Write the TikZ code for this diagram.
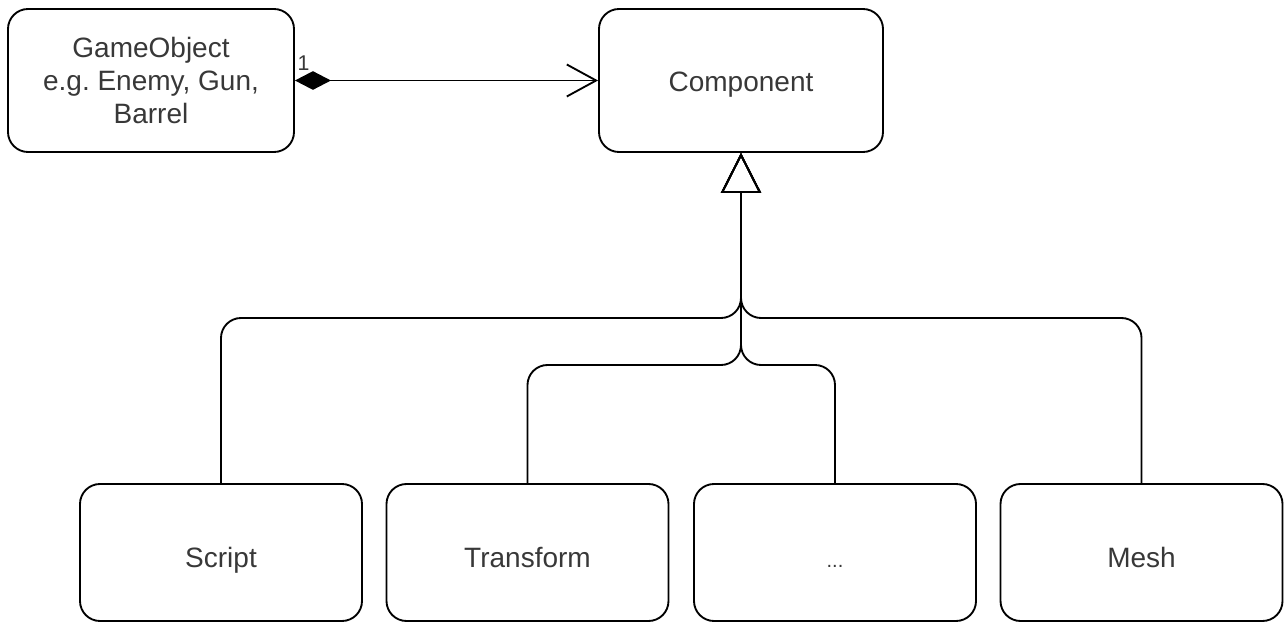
\documentclass[tikz,border=0pt]{standalone}
\usepackage{fontspec}
\setmainfont{Liberation Sans}
\usetikzlibrary{arrows.meta}
\begin{document}
\frenchspacing
\begin{tikzpicture}[x=0.75pt,y=-0.75pt,
  box/.style={draw, line width=1.4pt, rounded corners=15pt, align=center,
    text=black!78, font=\fontsize{21}{24.75}\selectfont, inner sep=0pt},
  bottombox/.style={box, minimum width=211.5pt, minimum height=102.75pt,
    text height=21.8pt, text depth=0pt},
  conn/.style={line width=1.4pt},
  inherit/.style={conn, rounded corners=15pt, -{Triangle[open, length=30pt, width=30pt, line width=1.4pt]}}
]
\useasboundingbox (0,0) rectangle (1284,623);
\node[box, minimum width=214.5pt, minimum height=107.25pt] (go) at (151,80.5)
  {GameObject\\e.g. Enemy, Gun,\\Barrel};
\node[box, minimum width=213pt, minimum height=107.25pt, text height=17.2pt, text depth=0pt] (comp) at (741,80.5) {Component};
\node[bottombox] (script) at (221,552.5) {Script};
\node[bottombox] (transform) at (527.5,552.5) {Transform};
\node[bottombox, font=\fontsize{15}{18}\selectfont] (dots) at (835,552.5) {...};
\node[bottombox] (mesh) at (1141.5,552.5) {Mesh};
\draw[conn, {Diamond[length=27pt, width=14pt]}-{Straight Barb[length=22pt, width=24pt, line width=1.4pt]}]
  (go.east) -- (comp.west);
\node[font=\fontsize{16}{18}\selectfont, text=black!78, anchor=south west, inner sep=1pt] (one) at (296,72) {1};
\coordinate (j1) at (741,318);
\coordinate (j2) at (741,365);
\draw[inherit] (script.north) |- (j1) -- (comp.south);
\draw[inherit] (mesh.north) |- (j1) -- (comp.south);
\draw[inherit] (transform.north) |- (j2) -- (comp.south);
\draw[inherit] (dots.north) |- (j2) -- (comp.south);
\end{tikzpicture}
\end{document}
